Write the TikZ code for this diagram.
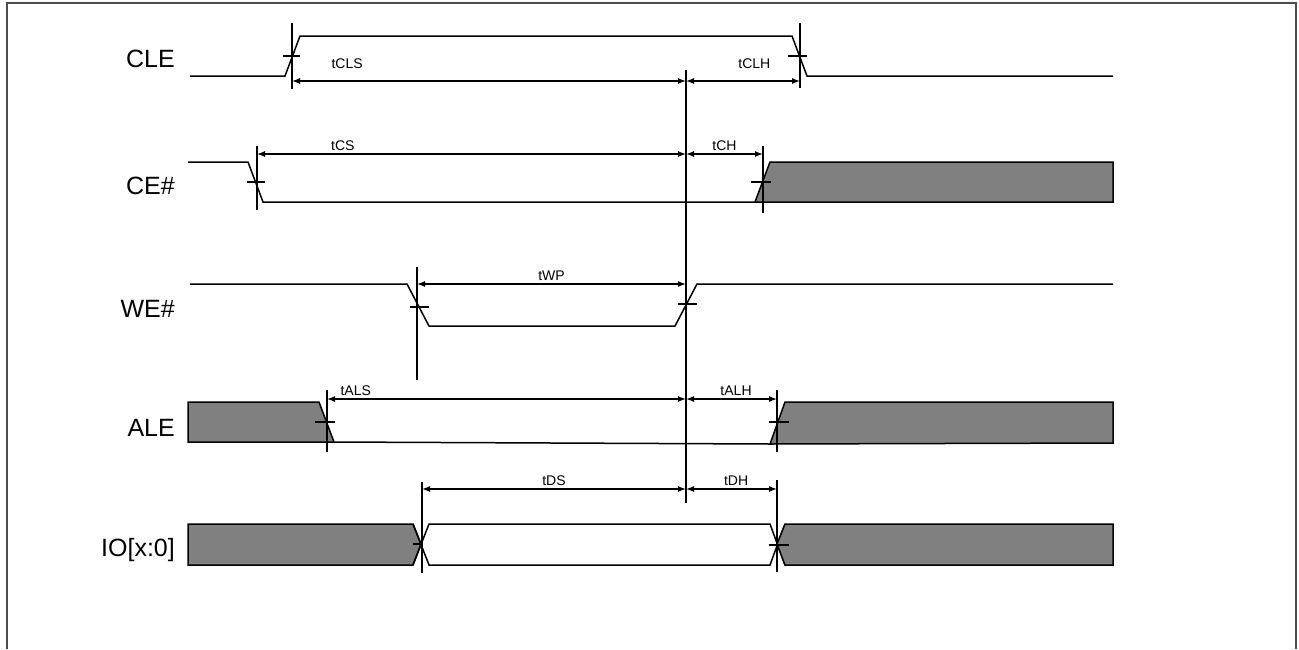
\documentclass[tikz,border=0pt]{standalone}
\usepackage{fontspec}
\setmainfont{Liberation Sans}
\usetikzlibrary{arrows.meta}
\definecolor{busgray}{HTML}{808080}

\begin{document}
\begin{tikzpicture}[
x=1pt,y=-1pt,
sig/.style={line width=1.5pt},
bus/.style={sig,fill=busgray},
tickline/.style={line width=1.3pt},
dim/.style={line width=1.3pt,{Latex[length=8pt,width=6pt]}-{Latex[length=8pt,width=6pt]}},
signame/.style={anchor=base east,inner sep=0pt,font=\fontsize{25}{30}\selectfont},
dimlabel/.style={above=3pt,inner sep=0pt,font=\fontsize{14}{16}\selectfont}
]
\useasboundingbox (0,0) rectangle (1299,649);
\draw[line width=1.2pt,black!70] (7,649) -- (7,3) -- (1296,3) -- (1296,649);

% signal names
\foreach \Name/\y in {CLE/67,CE\#/194,WE\#/317,ALE/436,IO[x:0]/556}
  \node[signame] at (175,\y) {\Name};

% CLE
\draw[sig] (190,76) -- (285,76) -- (300,36) -- (792,36) -- (807,76) -- (1113,76);
% CE#
\draw[sig] (188,162) -- (248,162) -- (263,202) -- (755,202);
\draw[bus] (755,202) -- (770,162) -- (1113,162) -- (1113,202) -- cycle;
% WE#
\draw[sig] (190,284) -- (407,284) -- (429,326) -- (675,326) -- (697,284) -- (1113,284);
% ALE
\draw[bus] (188,402) -- (319,402) -- (334,442) -- (188,442) -- cycle;
\draw[sig] (334,442) -- (770,444);
\draw[bus] (770,444) -- (785,402) -- (1113,402) -- (1113,443) -- cycle;
% IO[x:0]
\draw[bus] (188,524) -- (413,524) -- (421,544) -- (413,565) -- (188,565) -- cycle;
\draw[sig] (413,565) -- (429,524) -- (770,524) -- (785,565);
\draw[sig] (413,524) -- (429,565) -- (770,565) -- (785,524);
\draw[bus] (777,544) -- (785,524) -- (1113,524) -- (1113,565) -- (785,565) -- cycle;

% edge marks
\foreach \x/\ya/\yb in {292/23/89,800/23/88,257/146/210,763/146/213,417/267/380,
  327/390/452,777/390/452,422/482/573,777/480/572}
  \draw[tickline] (\x,\ya) -- (\x,\yb);
\foreach \y/\xa/\xb in {56/283/300,56/788/807,182/247/265,182/751/771,307/410/429,
  304/678/697,422/315/335,422/769/789,544/413/422,545/769/789}
  \draw[tickline] (\xa,\y) -- (\xb,\y);
\draw[tickline] (686,70) -- (686,503);

% timing references
\coordinate (cls) at (292,81);  \coordinate (clh) at (800,81);  \coordinate (cl0) at (686,81);
\coordinate (cs)  at (257,154); \coordinate (ch)  at (763,154); \coordinate (c0)  at (686,154);
\coordinate (wp)  at (417,284); \coordinate (w0)  at (686,284);
\coordinate (als) at (327,399); \coordinate (alh) at (777,399); \coordinate (al0) at (686,399);
\coordinate (ds)  at (422,489); \coordinate (dh)  at (777,489); \coordinate (d0)  at (686,489);

\draw[dim] (cls) -- node[dimlabel,above=9pt,pos=0.14] {tCLS} (cl0);
\draw[dim] (cl0) -- node[dimlabel,above=9pt,pos=0.6] {tCLH} (clh);
\draw[dim] (cs) -- node[dimlabel,pos=0.2] {tCS} (c0);
\draw[dim] (c0) -- node[dimlabel,pos=0.5] {tCH} (ch);
\draw[dim] (wp) -- node[dimlabel] {tWP} (w0);
\draw[dim] (als) -- node[dimlabel,pos=0.08] {tALS} (al0);
\draw[dim] (al0) -- node[dimlabel,pos=0.55] {tALH} (alh);
\draw[dim] (ds) -- node[dimlabel] {tDS} (d0);
\draw[dim] (d0) -- node[dimlabel,pos=0.55] {tDH} (dh);
\end{tikzpicture}
\end{document}
